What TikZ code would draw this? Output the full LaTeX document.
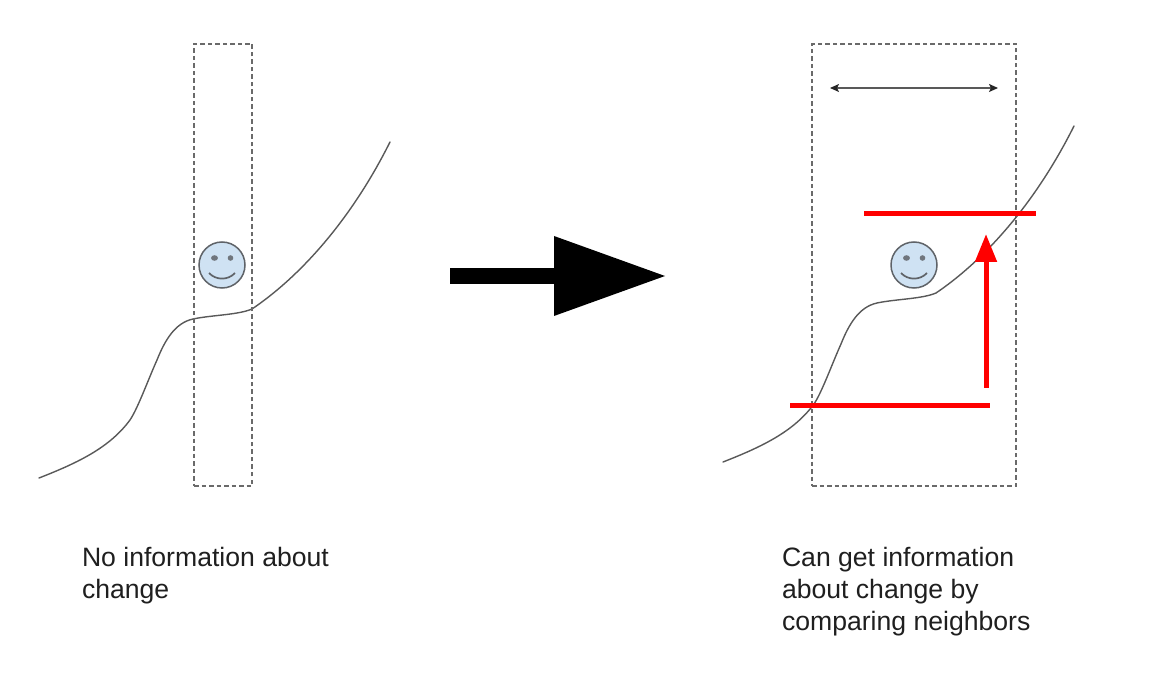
\documentclass[tikz,border=0pt]{standalone}
\usepackage{fontspec}
\setmainfont{Liberation Sans}
\usetikzlibrary{arrows.meta}
\definecolor{curvegray}{HTML}{595959}
\definecolor{facefill}{HTML}{CFE2F3}
\definecolor{faceline}{HTML}{5F6368}
\definecolor{dashgray}{HTML}{6A6A6A}
\definecolor{txt}{HTML}{1F1F1F}
\tikzset{
  x=1pt,y=-1pt,
  window/.style={draw=dashgray,line width=1.1pt,dash pattern=on 4.5pt off 3pt,inner sep=0pt,minimum height=442pt},
  curveline/.style={draw=curvegray,line width=1.4pt,line cap=round},
  redbar/.style={draw=red,line width=5pt},
  caption/.style={anchor=north west,align=left,font=\fontsize{26.6}{32}\selectfont,text=txt,inner sep=0pt,outer sep=0pt},
  pics/smiley/.style={code={
    \draw[draw=faceline,line width=1.5pt,fill=facefill] (0,0) circle[radius=23];
    \fill[faceline!85!facefill] (-7.5,-7) ellipse[x radius=3.4,y radius=2.8];
    \fill[faceline!85!facefill] (8.5,-7) ellipse[x radius=2.8,y radius=2.8];
    \draw[faceline,line width=1.7pt] (-13,8) .. controls (-6,15.5) and (6,15.5) .. (13,8);
  }},
  pics/wiggle/.style={code={
    \draw[curveline] (39,478) .. controls (80,462) and (110,447) .. (130,420)
      .. controls (138,408) and (148,380) .. (157,360)
      .. controls (165,340) and (175,323) .. (193,319)
      .. controls (212,315) and (238,315) .. (252,309)
      .. controls (295,280) and (348,226) .. (390,142);
  }}
}
\begin{document}
\begin{tikzpicture}
\useasboundingbox (0,0) rectangle (1149,700);
% left panel
\pic at (0,0) {wiggle};
\node[window,minimum width=58pt] (leftwin) at (223,265) {};
\pic at (222,265) {smiley};
% big arrow
\coordinate (bigS) at (450,276);
\coordinate (bigE) at (665,276);
\draw[black,line width=16pt,-{Triangle[length=111pt,width=80pt,line width=0pt]}] (bigS) -- (bigE);
% right panel
\pic at (684,-16) {wiggle};
\node[window,minimum width=204pt] (rightwin) at (914,265) {};
\pic at (914,265) {smiley};
% width arrow
\coordinate (wL) at (830,88);
\coordinate (wR) at (998,88);
\draw[curvegray,line width=1.4pt,{Stealth[length=9pt,width=8pt,inset=2pt,color=black!85]}-{Stealth[length=9pt,width=8pt,inset=2pt,color=black!85]}] (wL) -- (wR);
% red
\coordinate (topA) at (864,214);
\coordinate (topB) at (1036,214);
\coordinate (botA) at (790,406);
\coordinate (botB) at (990,406);
\draw[redbar] (topA) -- (topB);
\draw[redbar] (botA) -- (botB);
\coordinate (upS) at (986,388);
\coordinate (upE) at (986,234);
\draw[red,line width=5pt,-{Triangle[length=28pt,width=21pt]}] (upS) -- (upE);
% captions
\node[caption] (leftcap) at (82,547) {No information about\\change};
\node[caption] (rightcap) at (782,547) {Can get information\\about change by\\comparing neighbors};
\end{tikzpicture}
\end{document}
